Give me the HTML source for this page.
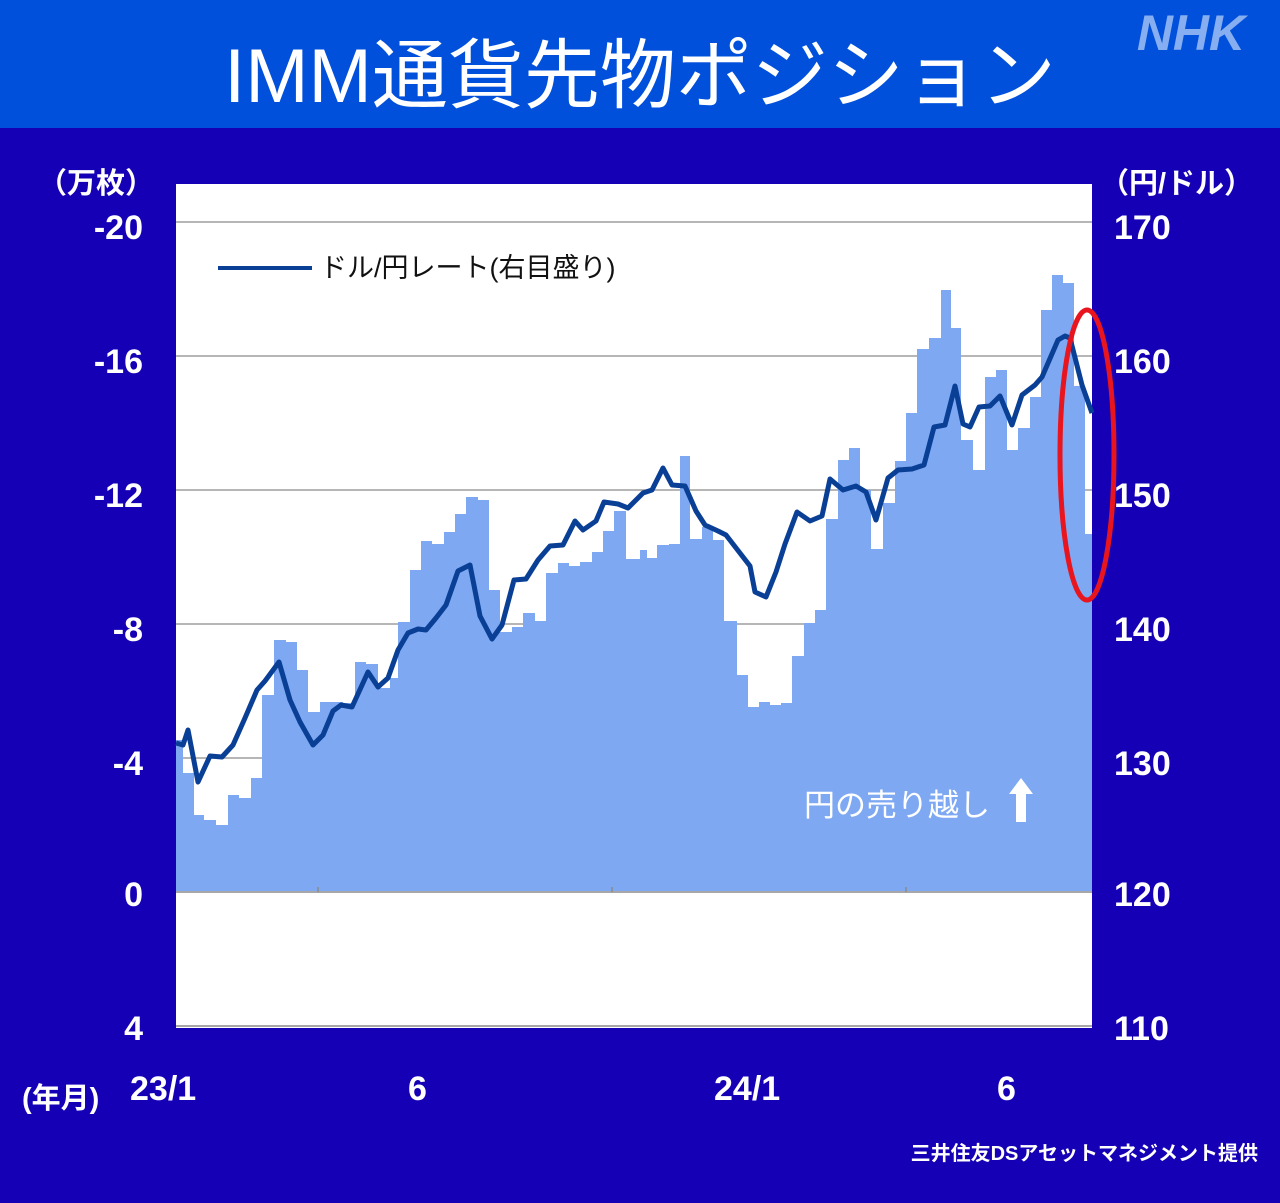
<!DOCTYPE html>
<html><head><meta charset="utf-8"><style>
html,body{margin:0;padding:0;width:1280px;height:1203px;overflow:hidden;background:#1500b5}
svg{display:block}
text{font-family:"Liberation Sans","Noto Sans CJK JP",sans-serif;fill:#fff}
</style></head><body>
<svg width="1280" height="1203" viewBox="0 0 1280 1203" xmlns="http://www.w3.org/2000/svg">
<rect x="0" y="0" width="1280" height="128" fill="#0050dc"/>
<rect x="0" y="128" width="1280" height="1075" fill="#1500b5"/>
<text x="640" y="102" font-size="76" text-anchor="middle" font-family="Noto Sans CJK JP, sans-serif">IMM通貨先物ポジション</text>
<text x="1191" y="50" font-size="50" font-weight="bold" font-style="italic" text-anchor="middle" style="fill:#86aef0">NHK</text>
<rect x="176" y="184" width="916" height="844" fill="#fff"/>
<g stroke="#8a8a8a" stroke-width="1.3">
<line x1="176" y1="222" x2="1092" y2="222"/>
<line x1="176" y1="356" x2="1092" y2="356"/>
<line x1="176" y1="490" x2="1092" y2="490"/>
<line x1="176" y1="624" x2="1092" y2="624"/>
<line x1="176" y1="758" x2="1092" y2="758"/>
</g>
<path fill="#7ea8f2" d="M176 891 V740 H183 V773 H194 V815 H204 V820 H216 V825 H228 V795 H239 V798 H251 V778 H262 V695 H274 V640 H286 V642 H297 V670 H308 V712 H320 V702 H331 V702 H343 V703 H355 V662 H366 V664 H378 V688 H390 V678 H398 V622 H410 V570 H421 V541 H432 V544 H444 V532 H455 V514 H466 V497 H478 V500 H489 V590 H500 V632 H512 V627 H523 V613 H535 V621 H546 V573 H558 V563 H569 V566 H580 V562 H592 V552 H603 V531 H614 V511 H626 V559 H640 V550 H647 V558 H657 V545 H669 V544 H680 V456 H690 V539 H702 V527 H713 V540 H724 V621 H737 V675 H748 V707 H759 V702 H770 V705 H781 V703 H792 V656 H804 V623 H815 V610 H826 V519 H838 V460 H849 V448 H860 V490 H871 V549 H883 V503 H895 V461 H906 V413 H917 V349 H929 V338 H941 V290 H951 V328 H961 V440 H973 V470 H985 V377 H996 V370 H1007 V450 H1018 V428 H1030 V397 H1041 V310 H1052 V275 H1063 V283 H1074 V386 H1085 V534 H1092 V891 Z"/>
<line x1="176" y1="892" x2="1092" y2="892" stroke="#8a8a8a" stroke-width="1.5"/>
<line x1="176" y1="1026" x2="1092" y2="1026" stroke="#8a8a8a" stroke-width="1.5"/>
<g stroke="#8a8a8a" stroke-width="1.5"><line x1="318" y1="887" x2="318" y2="892"/><line x1="612" y1="887" x2="612" y2="892"/><line x1="906" y1="887" x2="906" y2="892"/></g>
<polyline fill="none" stroke="#0a3f96" stroke-width="5" stroke-linejoin="round" points="176,743 183,745 188,730 198,782 210,756 222,757 233,745 245,718 257,690 265,681 279,662 290,700 300,722 313,745 323,735 333,711 341,705 352,707 368,672 378,687 388,678 398,650 408,633 418,629 426,630 436,618 446,605 458,571 470,565 480,616 492,639 502,625 514,580 526,579 538,560 550,546 563,545 575,521 583,530 596,521 604,502 618,504 628,508 636,500 643,493 652,490 663,468 672,485 685,486 696,511 705,525 718,531 726,535 750,566 755,592 766,597 776,572 785,544 797,512 810,521 822,516 830,479 843,490 856,486 866,492 876,520 888,478 898,470 912,469 924,465 934,427 945,425 955,386 963,424 970,427 979,407 990,406 1000,396 1012,425 1022,395 1035,385 1042,377 1058,340 1065,336 1070,338 1082,385 1092,413"/>
<ellipse cx="1087" cy="455" rx="27" ry="145" fill="none" stroke="#e8141e" stroke-width="5"/>
<line x1="218" y1="268" x2="312" y2="268" stroke="#0a3f96" stroke-width="4"/>
<text x="320" y="277" font-size="27" style="fill:#111">ドル/円レート(右目盛り)</text>
<text x="804" y="816" font-size="31">円の売り越し</text>
<path d="M1021 778 l-12 16 h7 v28 h10 v-28 h7 z" fill="#fff"/>
<g font-size="34" font-weight="bold" text-anchor="end">
<text x="143" y="239">-20</text><text x="143" y="373">-16</text><text x="143" y="507">-12</text><text x="143" y="641">-8</text><text x="143" y="775">-4</text><text x="143" y="906">0</text><text x="143" y="1040">4</text>
</g>
<g font-size="34" font-weight="bold">
<text x="1114" y="239">170</text><text x="1114" y="373">160</text><text x="1114" y="507">150</text><text x="1114" y="641">140</text><text x="1114" y="775">130</text><text x="1114" y="906">120</text><text x="1114" y="1040">110</text>
</g>
<text x="38" y="193" font-size="29" font-weight="bold">（万枚）</text>
<text x="1100" y="193" font-size="29" font-weight="bold">（円/ドル）</text>
<g font-size="34" font-weight="bold">
<text x="130" y="1100">23/1</text><text x="408" y="1100">6</text><text x="714" y="1100">24/1</text><text x="997" y="1100">6</text>
</g>
<text x="22" y="1108" font-size="29" font-weight="bold">(年月)</text>
<text x="1258" y="1160" font-size="20" font-weight="bold" text-anchor="end">三井住友DSアセットマネジメント提供</text>
</svg>
</body></html>
